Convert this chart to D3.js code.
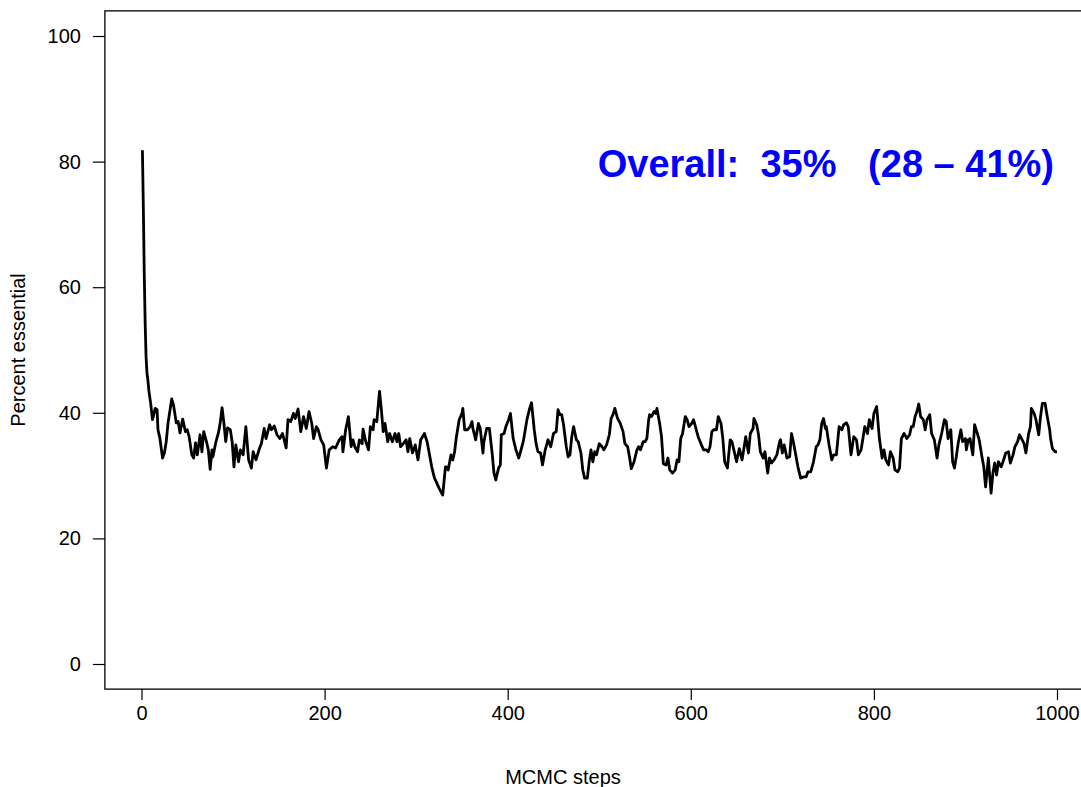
<!DOCTYPE html>
<html>
<head>
<meta charset="utf-8">
<script src="https://cdn.jsdelivr.net/npm/d3@7"></script>
<style>
  body { margin: 0; background: #fff; }
  svg text { font-family: "Liberation Sans", Arial, Helvetica, sans-serif; }
</style>
</head>
<body>
<svg></svg>
<script>
// MCMC trace
var steps = [1,2,3,4,5,6,7,8,10,12,15,17,18,20,23,25,27,29,33,35,38,40,42,45,48,50,52,55,57,59,
  61,64,66,68,71,73,75,77,78,81,84,86,88,90,92,94,97,99,101,103,106,108,111,114,117,120,122,125,129,131,
  134,136,140,142,145,148,151,154,158,160,163,166,168,171,174,177,180,183,186,188,191,193,196,199,202,205,209,212,216,219,
  220,223,226,229,231,233,236,238,241,242,245,248,250,253,254,257,260,262,264,266,269,271,274,277,279,281,283,286,289,291,
  293,296,299,302,305,309,312,314,317,320,322,325,329,332,333,335,338,340,342,344,347,350,351,353,356,359,361,362,365,368,
  370,373,374,377,380,383,385,387,390,392,393,396,398,401,403,406,409,412,414,417,421,424,426,429,431,433,436,438,441,444,
  447,450,453,455,457,459,461,464,466,468,470,472,475,477,480,482,484,487,489,491,493,495,497,500,503,505,508,511,513,515,
  517,520,523,526,528,531,533,535,538,541,543,545,548,550,552,554,555,557,560,562,563,566,568,570,573,575,577,580,583,585,
  587,589,591,594,596,598,601,603,606,608,611,614,617,619,621,623,625,628,630,633,635,637,640,643,645,647,650,653,656,658,
  660,663,665,668,669,672,674,676,679,681,684,686,688,691,694,697,698,700,702,705,708,710,712,715,717,720,723,726,728,731,
  734,737,739,741,743,745,747,748,751,754,756,759,762,765,767,770,772,775,778,781,783,786,788,790,793,795,798,800,803,806,
  809,811,813,816,818,821,823,826,828,830,833,836,839,841,843,845,847,849,851,854,856,858,861,863,866,869,871,874,877,879,
  881,884,886,888,890,892,895,897,900,901,903,905,908,910,913,915,918,920,922,925,928,930,932,934,936,939,941,944,947,949,
  952,954,957,959,962,964,966,969,971,972,975,977,980,982,984,987,989,992,993,995,998,1000];
var percent = [81.8,72.8,62.2,54.3,48.9,46.3,45.2,43.6,41.5,38.9,40.7,40.5,37.3,36.0,32.8,33.6,35.4,38.4,42.2,41.2,38.4,38.6,36.8,39.0,37.0,37.3,36.2,33.3,32.8,35.2,
  33.3,36.5,33.8,37.0,35.4,34.1,31.0,34.1,33.0,35.2,36.8,38.4,40.8,38.4,35.4,37.6,37.3,35.4,31.4,34.9,32.2,34.1,33.3,37.8,32.5,31.2,33.8,32.5,34.4,35.1,
  37.5,35.9,38.1,37.3,37.9,36.5,35.9,36.7,34.4,38.9,38.6,39.9,39.1,40.6,37.0,39.4,37.5,40.2,38.3,35.9,37.8,37.3,35.7,34.9,31.2,34.1,34.6,34.4,35.7,36.2,
  33.8,37.3,39.4,34.6,35.7,34.6,33.8,35.7,35.1,37.4,35.4,34.1,37.8,37.3,38.9,38.6,43.4,40.5,37.0,38.3,35.4,36.7,35.4,36.7,35.4,36.7,34.6,35.1,35.7,33.8,
  35.9,33.6,34.9,32.5,35.7,36.7,35.4,33.8,31.4,29.6,29.0,28.0,26.9,31.4,31.4,30.9,33.3,32.5,33.8,36.2,38.9,39.9,40.7,37.3,37.3,37.8,38.6,37.5,35.7,38.3,
  37.5,33.6,35.4,37.5,37.5,33.6,30.4,29.3,31.2,31.7,36.5,36.7,37.8,38.9,39.9,35.9,34.1,32.8,33.8,35.4,38.9,40.7,41.6,37.3,35.1,33.8,33.6,31.7,34.1,35.7,
  34.6,36.7,37.0,40.5,39.7,39.7,38.1,34.6,33.0,33.3,36.2,37.8,35.7,35.4,33.6,30.9,29.6,29.6,32.2,34.1,32.2,33.8,33.3,35.1,34.6,34.1,34.9,36.5,39.1,39.7,
  40.7,39.1,38.3,37.0,35.1,34.6,33.0,31.1,32.2,34.0,34.6,34.1,35.4,35.4,35.9,38.9,39.7,39.4,40.2,39.9,40.7,38.3,36.2,31.9,31.7,32.8,30.9,30.4,30.9,32.5,
  32.2,35.9,36.7,39.4,38.9,37.8,38.3,38.9,37.3,36.2,35.1,34.1,34.1,33.8,34.6,37.0,37.3,37.3,39.4,38.3,35.9,32.2,31.2,35.7,35.4,34.1,32.2,34.3,32.5,34.3,
  36.2,33.6,36.7,37.5,39.1,38.1,36.5,33.8,32.8,33.8,30.4,32.8,32.0,32.5,33.3,35.4,35.7,33.6,34.9,32.8,33.0,36.7,35.4,33.0,31.4,29.6,29.8,29.8,30.6,30.6,
  32.2,34.6,34.9,35.7,38.3,39.1,37.5,37.8,34.9,32.5,33.3,33.3,37.8,37.3,38.1,38.4,37.8,33.3,36.2,35.7,33.3,34.1,35.9,37.8,36.7,38.9,37.5,39.9,41.0,35.9,
  32.8,34.1,32.5,31.7,33.8,32.8,30.9,30.6,31.2,35.9,36.7,35.9,36.5,37.8,37.8,39.4,40.2,41.4,39.4,38.9,37.3,38.9,39.7,36.7,35.7,32.8,34.9,36.7,38.9,38.6,
  35.9,37.3,32.2,31.2,33.0,35.1,37.3,35.4,35.9,34.1,35.7,35.9,33.3,38.1,36.7,35.7,33.0,31.4,28.2,32.8,27.2,30.4,32.0,30.1,32.2,31.4,32.2,33.6,33.8,32.0,
  33.3,34.6,35.4,36.5,35.7,35.1,33.6,36.7,37.8,40.7,39.9,38.9,36.5,39.4,41.5,41.5,39.7,37.3,35.9,34.3,33.8,33.8];

var xTicks = [0, 200, 400, 600, 800, 1000];
var yTicks = [0, 20, 40, 60, 80, 100];
var xTitle = "MCMC steps";
var yTitle = "Percent essential";
var note = "Overall:  35%   (28 \u2013 41%)";

var width = 1081, height = 787;
var x = d3.scaleLinear().domain([0, 1000]).range([141.5, 1057]);
var y = d3.scaleLinear().domain([0, 100]).range([664, 36]);

var svg = d3.select("svg")
    .attr("width", width)
    .attr("height", height)
    .style("display", "block");

// plot region, padded 4% like R does
var boxL = x(-40), boxR = x(1040), boxT = y(104), boxB = y(-4);

var xAxis = svg.append("g")
    .attr("transform", "translate(0," + boxB + ")")
    .call(d3.axisBottom(x).tickValues(xTicks).tickFormat(d3.format("d"))
      .tickSize(11).tickSizeOuter(0).tickPadding(6));
var yAxis = svg.append("g")
    .attr("transform", "translate(" + boxL + ",0)")
    .call(d3.axisLeft(y).tickValues(yTicks).tickSize(12).tickSizeOuter(0).tickPadding(12));

[xAxis, yAxis].forEach(function(g){
  g.select(".domain").remove();
  g.selectAll("line").attr("stroke", "#000").attr("stroke-width", 1.2);
  g.selectAll("text").attr("fill", "#000").style("font-size", "20px");
});

svg.append("rect")
    .attr("x", boxL).attr("y", boxT)
    .attr("width", boxR - boxL).attr("height", boxB - boxT)
    .attr("fill", "none").attr("stroke", "#000").attr("stroke-width", 1.3);

var line = d3.line()
    .x(function(d, i){ return x(steps[i]); })
    .y(function(d){ return y(d); });

svg.append("path")
    .datum(percent)
    .attr("d", line)
    .attr("fill", "none")
    .attr("stroke", "#000")
    .attr("stroke-width", 2.8)
    .attr("stroke-linejoin", "round");

svg.append("text")
    .attr("x", 563).attr("y", 784)
    .attr("text-anchor", "middle")
    .style("font-size", "20px")
    .text(xTitle);

svg.append("text")
    .attr("transform", "translate(25," + ((boxT + boxB) / 2) + ") rotate(-90)")
    .attr("text-anchor", "middle")
    .style("font-size", "20px")
    .text(yTitle);

svg.append("text")
    .attr("x", 1054).attr("y", 177)
    .attr("text-anchor", "end")
    .attr("fill", "#0000ff")
    .style("font-size", "38px")
    .style("font-weight", "bold")
    .style("white-space", "pre")
    .text(note);
</script>
</body>
</html>
